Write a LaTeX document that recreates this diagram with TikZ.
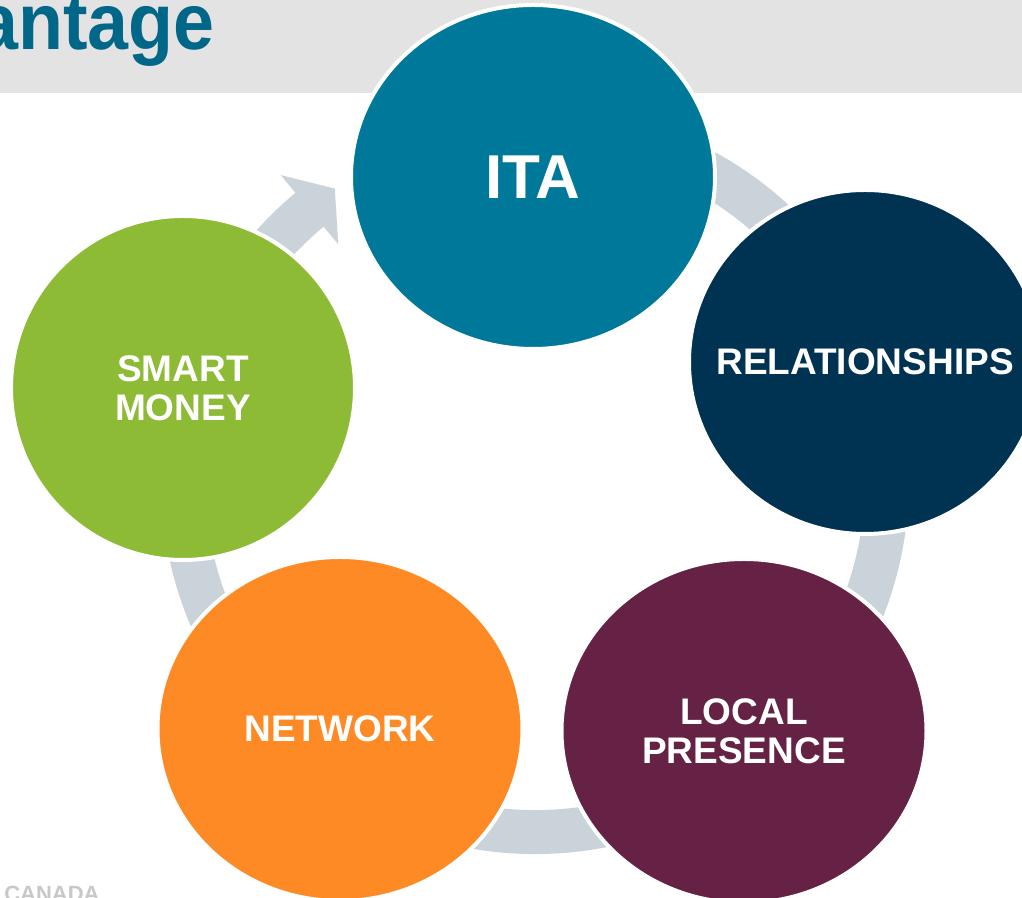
\documentclass[tikz,border=0pt]{standalone}
\usepackage{fontspec}
\setmainfont{Liberation Sans}
\usetikzlibrary{shapes.geometric}
\definecolor{bandgray}{HTML}{E3E3E3}
\definecolor{titleblue}{HTML}{006788}
\definecolor{ringgray}{HTML}{CBD3DA}
\definecolor{itacol}{HTML}{00789A}
\definecolor{relcol}{HTML}{003352}
\definecolor{loccol}{HTML}{652245}
\definecolor{netcol}{HTML}{FD8A24}
\definecolor{smartcol}{HTML}{8DBB36}
\definecolor{canadagray}{HTML}{C8C8C8}
\tikzset{
  bubble/.style={ellipse, inner sep=0pt, draw=white, line width=3pt, text=white, align=center,
    font=\fontsize{27.75}{29.25}\selectfont\bfseries},
  ringline/.style={draw=ringgray, line width=33pt},
  ringhead/.style={fill=ringgray}
}
\begin{document}
\begin{tikzpicture}[x=0.75pt,y=0.75pt]
\useasboundingbox (0,0) rectangle (1022,898);
\clip (0,0) rectangle (1022,898);
\fill[white] (0,0) rectangle (1022,898);
% header band
\fill[bandgray] (0,805) rectangle (1022,898);
\node[anchor=base east, inner sep=0pt, text=titleblue, font=\fontsize{60}{60}\selectfont\bfseries] (title) at (215,848) {\scalebox{0.92}[1]{antage}};
% ring arrow
\draw[ringline] (535,418) ++(112:352) arc[start angle=112, end angle=-230.2, radius=352];
\fill[ringhead] (280.7,722.9) -- (334.8,709.4) -- (338.3,653.7) -- cycle;
% circles
\node[bubble, fill=itacol, minimum width=273pt, minimum height=258pt, font=\fontsize{46.5}{48}\selectfont\bfseries] (ita) at (533,721) {ITA};
\node[bubble, fill=relcol, minimum width=264pt, minimum height=258pt] (rel) at (865,536) {\makebox[0pt]{RELATIONSHIPS}};
\node[bubble, fill=loccol, minimum width=273.75pt, minimum height=258pt] (loc) at (744,167) {LOCAL\\PRESENCE};
\node[bubble, fill=netcol, minimum width=273.75pt, minimum height=258pt] (net) at (340,169) {NETWORK};
\node[bubble, fill=smartcol, minimum width=258pt, minimum height=258pt] (smart) at (183,510) {SMART\\MONEY};
% footer
\node[anchor=base west, inner sep=0pt, text=canadagray, font=\fontsize{16.5}{18}\selectfont\bfseries] (canada) at (4,-4) {CANADA};
\end{tikzpicture}
\end{document}
